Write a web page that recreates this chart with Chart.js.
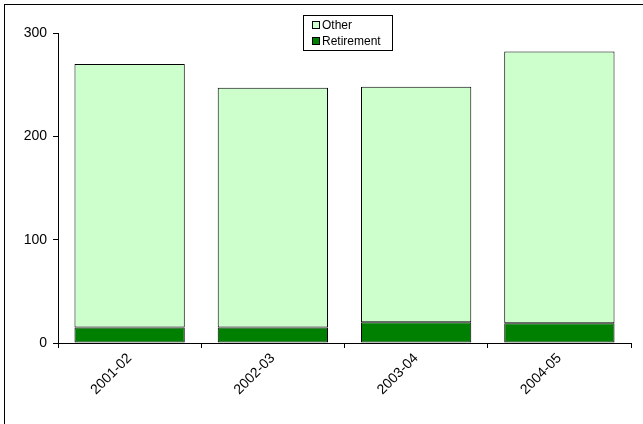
<!DOCTYPE html>
<html lang="en">
<head>
  <meta charset="UTF-8">
  <title>Retirement vs Other</title>
  <script src="https://cdn.jsdelivr.net/npm/chart.js"></script>
  <style>
    html, body { margin: 0; padding: 0; background: #fff; }
    #wrap { width: 643px; height: 424px; }
  </style>
</head>
<body>
  <div id="wrap"><canvas id="c" width="643" height="424"></canvas></div>
  <script>
    const years = ['2001-02', '2002-03', '2003-04', '2004-05'];
    const retirement = [15, 15, 20, 19];
    const other = [255, 232, 228, 263];

    const FONT = 'Liberation Sans, Arial, sans-serif';

    // frame (only top/left edges fall inside the picture) + vertical legend box
    const decor = {
      id: 'decor',
      afterDraw(chart) {
        const ctx = chart.ctx;
        ctx.save();
        ctx.strokeStyle = '#000';
        ctx.lineWidth = 1;
        ctx.strokeRect(4.5, 4.5, 700, 500);

        const bx = 303.5, by = 15.5, bw = 89, bh = 35;
        ctx.fillStyle = '#fff';
        ctx.fillRect(bx, by, bw, bh);
        ctx.strokeRect(bx, by, bw, bh);
        ctx.font = '12px ' + FONT;
        ctx.textBaseline = 'middle';
        // listed top-down in reverse stacking order
        const items = chart.data.datasets.slice().reverse();
        items.forEach((ds, i) => {
          const cy = 25 + i * 16;
          ctx.fillStyle = ds.backgroundColor;
          ctx.fillRect(312.5, cy - 3.5, 7, 7);
          ctx.strokeRect(312.5, cy - 3.5, 7, 7);
          ctx.fillStyle = '#000';
          ctx.fillText(ds.label, 322, cy + 0.5);
        });
        ctx.restore();
      }
    };

    new Chart(document.getElementById('c'), {
      type: 'bar',
      data: {
        labels: years,
        datasets: [
          {
            label: 'Retirement',
            data: retirement,
            backgroundColor: '#008000',
            borderColor: '#000',
            borderWidth: 1,
            borderSkipped: false
          },
          {
            label: 'Other',
            data: other,
            backgroundColor: '#CCFFCC',
            borderColor: '#000',
            borderWidth: 1,
            borderSkipped: false
          }
        ]
      },
      options: {
        responsive: false,
        animation: false,
        devicePixelRatio: 1,
        categoryPercentage: 1,
        barPercentage: 0.77,
        layout: { padding: { top: 33, right: 12, bottom: 5, left: 0 } },
        plugins: {
          legend: { display: false },
          tooltip: { enabled: false }
        },
        scales: {
          x: {
            stacked: true,
            border: { color: '#000', width: 1 },
            grid: {
              offset: true,
              drawOnChartArea: false,
              drawTicks: true,
              tickLength: 5,
              tickColor: '#000'
            },
            ticks: {
              color: '#000',
              font: { family: FONT, size: 14 },
              maxRotation: 45,
              minRotation: 45,
              padding: 2
            },
            afterFit(scale) { scale.height = 76; }
          },
          y: {
            stacked: true,
            min: 0,
            max: 300,
            border: { color: '#000', width: 1 },
            grid: {
              drawOnChartArea: false,
              drawTicks: true,
              tickLength: 5,
              tickColor: '#000'
            },
            ticks: {
              stepSize: 100,
              color: '#000',
              font: { family: FONT, size: 14 },
              padding: 6
            },
            afterFit(scale) { scale.width = 58; }
          }
        }
      },
      plugins: [decor]
    });
  </script>
</body>
</html>
